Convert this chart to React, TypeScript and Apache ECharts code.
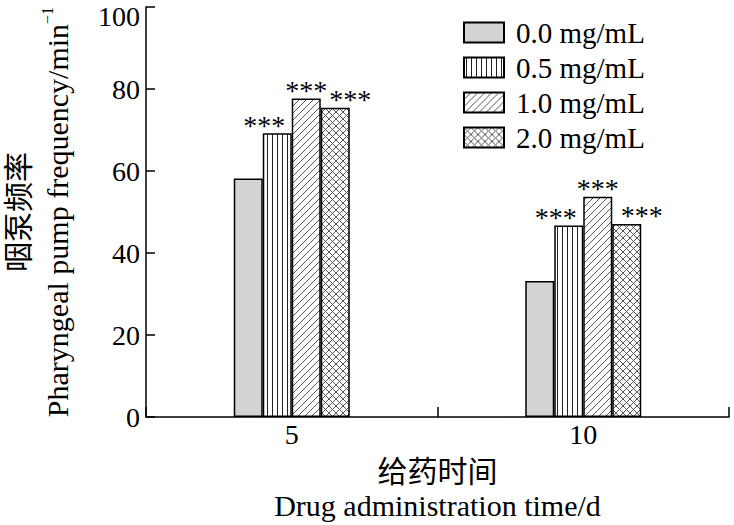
import React, { useEffect, useRef } from "react";
import * as echarts from "echarts";

const categories = ["5", "10"];
const seriesNames = ["0.0 mg/mL", "0.5 mg/mL", "1.0 mg/mL", "2.0 mg/mL"];
const dose00 = [58.2, 33.2];
const dose05 = [69.2, 46.7];
const dose10 = [77.7, 53.7];
const dose20 = [75.4, 47.1];
const significance = ["", "***", "***", "***"];
const yTicks = { min: 0, max: 100, interval: 20 };

const SERIF = "'Liberation Serif', 'Times New Roman', 'Noto Sans CJK SC', serif";

function makePattern(kind: string): any {
  const c = document.createElement("canvas");
  let w = 7;
  let h = 7;
  if (kind === "vertical") {
    w = 5;
    h = 10;
  }
  c.width = w;
  c.height = h;
  const ctx = c.getContext("2d")!;
  ctx.fillStyle = "#ffffff";
  ctx.fillRect(0, 0, w, h);
  if (kind === "vertical") {
    ctx.fillStyle = "#222222";
    ctx.fillRect(2, 0, 1, h);
  } else {
    ctx.strokeStyle = "#555555";
    ctx.lineWidth = 1;
    ctx.beginPath();
    ctx.moveTo(0, 7);
    ctx.lineTo(7, 0);
    ctx.moveTo(-1, 1);
    ctx.lineTo(1, -1);
    ctx.moveTo(6, 8);
    ctx.lineTo(8, 6);
    if (kind === "cross") {
      ctx.moveTo(0, 0);
      ctx.lineTo(7, 7);
      ctx.moveTo(-1, 6);
      ctx.lineTo(1, 8);
      ctx.moveTo(6, -1);
      ctx.lineTo(8, 1);
    }
    ctx.stroke();
  }
  return { image: c, repeat: "repeat", imageWidth: w, imageHeight: h };
}

export default function App() {
  const ref = useRef<HTMLDivElement>(null);

  useEffect(() => {
    if (!ref.current) return;
    const chart = echarts.init(ref.current, null, { renderer: "svg" });
    const fills: any[] = [
      "#d3d3d3",
      makePattern("vertical"),
      makePattern("diag"),
      makePattern("cross"),
    ];
    const datasets = [dose00, dose05, dose10, dose20];
    const labelShift = [0, -13, 0, 15];

    const series = datasets.map((d, i) => ({
      name: seriesNames[i],
      type: "bar",
      data: d,
      barWidth: 29,
      barGap: "0%",
      itemStyle: {
        color: fills[i],
        borderColor: "#000",
        borderWidth: 1.5,
      },
      label: {
        show: significance[i] !== "",
        position: "top",
        distance: -6,
        offset: [labelShift[i], 0],
        formatter: significance[i],
        fontSize: 28,
        fontFamily: SERIF,
        color: "#000",
      },
    }));

    chart.setOption({
      animation: false,
      grid: {
        left: 146,
        right: 5,
        top: 7,
        bottom: 108,
        containLabel: false,
        outerBoundsMode: "none",
      },
      legend: {
        orient: "vertical",
        left: 463,
        top: 18,
        padding: 0,
        itemWidth: 40,
        itemHeight: 20,
        itemGap: 6,
        icon: "rect",
        data: seriesNames,
        textStyle: {
          fontSize: 29,
          fontFamily: SERIF,
          color: "#000",
          padding: [0, 0, 0, 7],
        },
      },
      xAxis: {
        type: "category",
        data: categories,
        axisLine: { lineStyle: { color: "#000", width: 1.5 } },
        axisTick: {
          show: true,
          inside: true,
          length: 10,
          alignWithLabel: false,
          lineStyle: { color: "#000", width: 1.5 },
        },
        axisLabel: {
          fontSize: 28,
          fontFamily: SERIF,
          color: "#000",
          margin: 3,
        },
        name: "{c|给药时间}\n{e|Drug administration time/d}",
        nameLocation: "middle",
        nameGap: 37,
        nameTextStyle: {
          color: "#000",
          fontFamily: SERIF,
          fontSize: 30,
          lineHeight: 34,
          rich: {
            c: { fontSize: 30, lineHeight: 34, fontFamily: SERIF, color: "#000" },
            e: { fontSize: 30, lineHeight: 34, fontFamily: SERIF, color: "#000" },
          },
        },
      },
      yAxis: {
        type: "value",
        min: yTicks.min,
        max: yTicks.max,
        interval: yTicks.interval,
        splitLine: { show: false },
        axisLine: { show: true, lineStyle: { color: "#000", width: 1.5 } },
        axisTick: {
          show: true,
          inside: true,
          length: 9,
          lineStyle: { color: "#000", width: 1.5 },
        },
        axisLabel: {
          fontSize: 28,
          fontFamily: SERIF,
          color: "#000",
          margin: 6,
          formatter: (v: number) => (v === yTicks.max ? "{t|" + v + "}" : String(v)),
          rich: {
            t: {
              fontSize: 28,
              fontFamily: SERIF,
              color: "#000",
              padding: [18, 0, 0, 0],
            },
          },
        },
        name: "{c|咽泵频率}\n{e|Pharyngeal pump frequency/min}{s|−1}",
        nameLocation: "middle",
        nameRotate: 90,
        nameGap: 70,
        nameTextStyle: {
          color: "#000",
          fontFamily: SERIF,
          fontSize: 30,
          lineHeight: 37,
          rich: {
            c: { fontSize: 30, lineHeight: 41, fontFamily: SERIF, color: "#000" },
            e: { fontSize: 30, lineHeight: 37, fontFamily: SERIF, color: "#000" },
            s: {
              fontSize: 16,
              lineHeight: 37,
              verticalAlign: "top",
              fontFamily: SERIF,
              color: "#000",
            },
          },
        },
      },
      series,
    });

    return () => chart.dispose();
  }, []);

  return <div ref={ref} style={{ width: 734, height: 525, position: "absolute", left: 0, top: 0 }} />;
}
